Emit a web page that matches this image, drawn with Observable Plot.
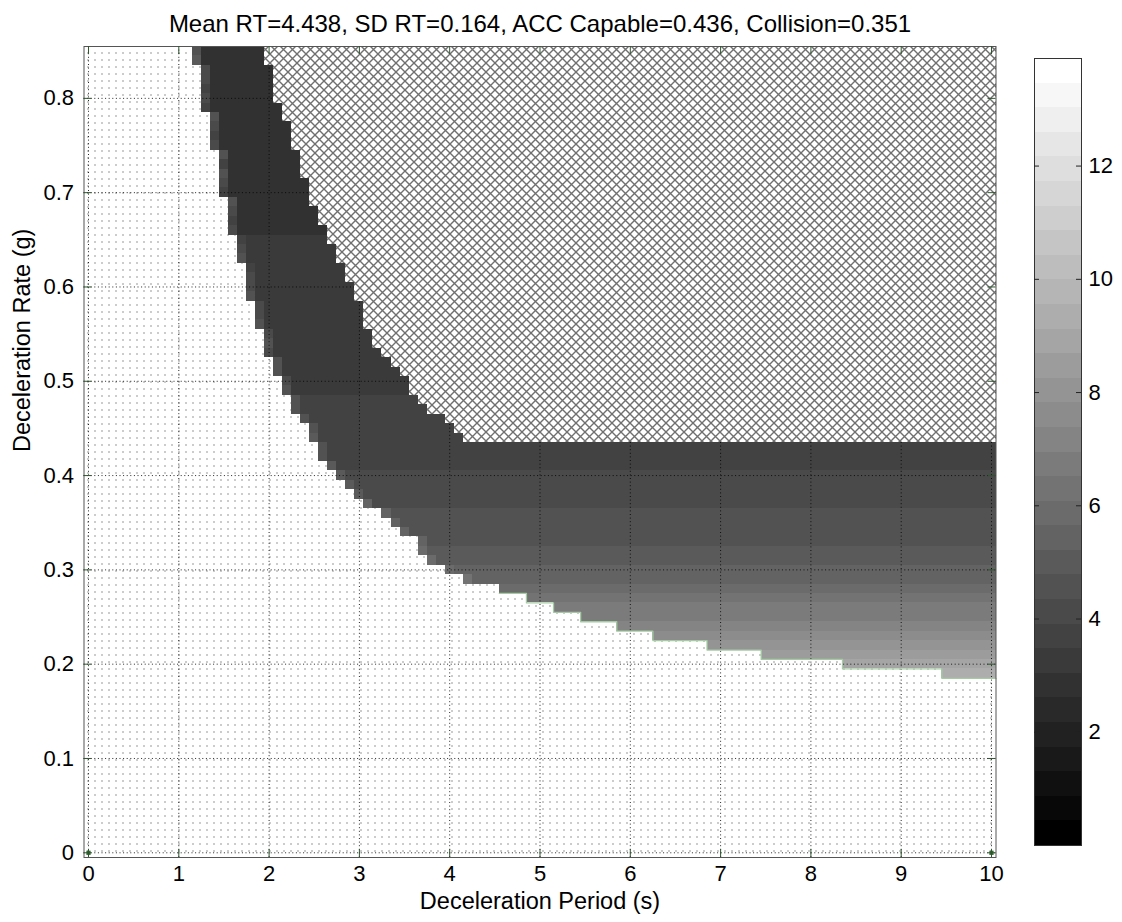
<!DOCTYPE html>
<html>
<head>
<meta charset="utf-8">
<script src="https://cdn.jsdelivr.net/npm/d3@7"></script>
<script src="https://cdn.jsdelivr.net/npm/@observablehq/plot@0.6"></script>
<style>
html, body { margin: 0; padding: 0; background: #fff; }
#wrap { position: relative; width: 1122px; height: 922px; }
#wrap svg { position: absolute; left: 0; top: 0; }
</style>
</head>
<body>
<div id="wrap"></div>
<script>
// ---------------- data ----------------
const titleText = "Mean RT=4.438, SD RT=0.164, ACC Capable=0.436, Collision=0.351";
const xLabel = "Deceleration Period (s)";
const yLabel = "Deceleration Rate (g)";
const xTicks = [0, 1, 2, 3, 4, 5, 6, 7, 8, 9, 10];
const yTicks = [0, 0.1, 0.2, 0.3, 0.4, 0.5, 0.6, 0.7, 0.8];
const cbTicks = [2, 4, 6, 8, 10, 12];
const colorDomain = [0, 13.9];

// one row per deceleration rate (g); grid 0.1 s x 0.01 g
const rates = [0.19, 0.20, 0.21, 0.22, 0.23, 0.24, 0.25, 0.26, 0.27, 0.28,
  0.29, 0.30, 0.31, 0.32, 0.33, 0.34, 0.35, 0.36, 0.37, 0.38,
  0.39, 0.40, 0.41, 0.42, 0.43, 0.44, 0.45, 0.46, 0.47, 0.48,
  0.49, 0.50, 0.51, 0.52, 0.53, 0.54, 0.55, 0.56, 0.57, 0.58,
  0.59, 0.60, 0.61, 0.62, 0.63, 0.64, 0.65, 0.66, 0.67, 0.68,
  0.69, 0.70, 0.71, 0.72, 0.73, 0.74, 0.75, 0.76, 0.77, 0.78,
  0.79, 0.80, 0.81, 0.82, 0.83, 0.84, 0.85];
// first non-collision period (s) in each row
const startX = [9.5, 8.4, 7.5, 6.9, 6.3, 5.9, 5.5, 5.2, 4.9, 4.6,
  4.2, 4.0, 3.8, 3.7, 3.7, 3.5, 3.4, 3.3, 3.1, 3.0,
  2.9, 2.8, 2.7, 2.6, 2.6, 2.5, 2.5, 2.4, 2.3, 2.3,
  2.2, 2.2, 2.1, 2.1, 2.0, 2.0, 2.0, 1.9, 1.9, 1.9,
  1.8, 1.8, 1.8, 1.8, 1.7, 1.7, 1.7, 1.6, 1.6, 1.6,
  1.6, 1.5, 1.5, 1.5, 1.5, 1.5, 1.4, 1.4, 1.4, 1.4,
  1.3, 1.3, 1.3, 1.3, 1.3, 1.2, 1.2];
// last period (s) before the ACC-capable (cross-hatched) region
const endX = [10, 10, 10, 10, 10, 10, 10, 10, 10, 10,
  10, 10, 10, 10, 10, 10, 10, 10, 10, 10,
  10, 10, 10, 10, 10, 4.1, 4.0, 3.9, 3.7, 3.6,
  3.5, 3.5, 3.4, 3.3, 3.2, 3.1, 3.1, 3.0, 3.0, 3.0,
  2.9, 2.9, 2.8, 2.8, 2.7, 2.7, 2.6, 2.6, 2.5, 2.5,
  2.4, 2.4, 2.4, 2.3, 2.3, 2.3, 2.2, 2.2, 2.2, 2.1,
  2.1, 2.0, 2.0, 2.0, 2.0, 1.9, 1.9];
// value of the shaded band in each row
const values = [9.4, 8.9, 8.5, 8.1, 7.6, 7.2, 6.9, 6.8, 6.4, 6.0,
  5.6, 5.5, 5.1, 5.0, 4.7, 4.7, 4.6, 4.5, 4.3, 4.2,
  4.2, 4.1, 3.8, 3.8, 3.7, 3.7, 3.7, 3.6, 3.6, 3.5,
  3.4, 3.4, 3.3, 3.3, 3.3, 3.3, 3.3, 3.3, 3.2, 3.2,
  3.2, 3.2, 3.2, 3.2, 3.2, 3.2, 3.2, 2.9, 2.9, 2.9,
  2.9, 2.9, 2.9, 2.9, 2.9, 2.9, 2.9, 2.9, 2.9, 2.9,
  2.9, 2.9, 2.9, 2.9, 2.9, 2.9, 2.9];
// slightly lighter first cell along the collision edge (null = none)
const edgeValues = [null, null, null, null, null, null, null, null, null, null,
  6.4, 6.0, 5.9, 5.8, 5.6, 5.5, 5.6, 5.4, 5.3, 5.2,
  5.0, 5.1, 4.9, 4.7, 4.6, 4.8, 4.6, 4.5, 4.7, 4.4,
  4.6, 4.3, 4.5, 4.4, 4.2, 4.5, 4.1, 4.6, 4.2, 4.0,
  4.4, 4.1, 4.3, 3.9, 4.4, 4.0, 3.8, 4.3, 3.9, 4.1,
  4.5, 3.8, 4.0, 4.4, 3.9, 4.6, 4.2, 3.8, 4.1, 4.4,
  3.9, 4.2, 3.8, 4.0, 4.3, 4.8, 4.6];
const cornerMarks = [{x: 0, y: 0}, {x: 10, y: 0}];

// ---------------- layout / style ----------------
const W = 1122, H = 922;
const L = 83.5, R = 995.5, T = 46, B = 857;
const cellW = 0.1, cellH = 0.01;
const font = "'Liberation Sans', Arial, Helvetica, sans-serif";
const tickColor = "#2f552f";
const grays = d3.range(32).map(k => { const g = Math.round(255 * k / 31); return `rgb(${g},${g},${g})`; });
const colorOpt = {type: "quantize", domain: colorDomain, range: grays};

const bandCells = [], hatchCells = [], greenEdge = [];
rates.forEach((r, i) => {
  const y1 = r - cellH / 2, y2 = r + cellH / 2;
  const s = startX[i], e = endX[i];
  if (edgeValues[i] != null) {
    bandCells.push({x1: s - cellW / 2, x2: s + cellW / 2, y1, y2, v: edgeValues[i]});
    bandCells.push({x1: s + cellW / 2, x2: e + cellW / 2, y1, y2, v: values[i]});
  } else {
    bandCells.push({x1: s - cellW / 2, x2: e + cellW / 2, y1, y2, v: values[i]});
  }
  if (e < 10) hatchCells.push({x1: e + cellW / 2, x2: 10 + cellW / 2, y1, y2});
});
// green contour along the lower collision edge (rows without lighter edge cells)
rates.forEach((r, i) => { if (edgeValues[i] == null) greenEdge.push({x: startX[i] - cellW / 2, y: r - cellH / 2}); });
greenEdge.reverse();
greenEdge.push({x: 10 + cellW / 2, y: rates[0] - cellH / 2});

const frameW = R - L, frameH = B - T, tl = 8;

const main = Plot.plot({
  width: W, height: H,
  marginLeft: L, marginRight: W - R, marginTop: T, marginBottom: H - B,
  style: {fontFamily: font, fontSize: "22px", color: "#000", background: "transparent"},
  x: {domain: [-cellW / 2, 10 + cellW / 2], ticks: xTicks, tickSize: 0, tickPadding: 8, tickFormat: d => String(d), label: null},
  y: {domain: [-cellH / 2, 0.85 + cellH / 2], ticks: yTicks, tickSize: 0, tickPadding: 10, tickFormat: d => String(d), label: null},
  color: colorOpt,
  marks: [
    Plot.frame({fill: "url(#dotPat)"}),
    Plot.rect(bandCells, {x1: "x1", x2: "x2", y1: "y1", y2: "y2", fill: "v", shapeRendering: "crispEdges"}),
    Plot.gridX(xTicks, {stroke: "#000", strokeOpacity: 0.85, strokeDasharray: "1,2.6"}),
    Plot.gridY(yTicks, {stroke: "#000", strokeOpacity: 0.85, strokeDasharray: "1,2.6"}),
    Plot.rect(hatchCells, {x1: "x1", x2: "x2", y1: "y1", y2: "y2", fill: "url(#hatchPat)", shapeRendering: "crispEdges"}),
    Plot.line(greenEdge, {x: "x", y: "y", curve: "step-after", stroke: "#a5cba5", strokeWidth: 1.3}),
    Plot.dot(cornerMarks, {x: "x", y: "y", symbol: "square", r: 2.4, fill: "#2f6a2f"}),
    Plot.frame({stroke: "#555"}),
    Plot.tickX(xTicks, {x: d => d, insetTop: frameH - tl, stroke: tickColor}),
    Plot.tickX(xTicks, {x: d => d, insetBottom: frameH - tl, stroke: tickColor}),
    Plot.tickY(yTicks, {y: d => d, insetRight: frameW - tl, stroke: tickColor}),
    Plot.tickY(yTicks, {y: d => d, insetLeft: frameW - tl, stroke: tickColor}),
    Plot.text([titleText], {frameAnchor: "top", dy: -32, fontSize: 24, fill: "#000"}),
    Plot.text([xLabel], {frameAnchor: "bottom", dy: 51, fontSize: 23.5, fill: "#000"}),
    Plot.text([yLabel], {frameAnchor: "left", dx: -62, rotate: -90, fontSize: 23.5, fill: "#000"})
  ]
});

// hatch / dot patterns
const defs = d3.select(main).insert("defs", ":first-child");
const dp = defs.append("pattern").attr("id", "dotPat").attr("patternUnits", "userSpaceOnUse")
  .attr("width", 7).attr("height", 7);
dp.append("rect").attr("width", 7).attr("height", 7).attr("fill", "#fff");
dp.append("rect").attr("x", 3).attr("y", 3).attr("width", 1).attr("height", 1).attr("fill", "#333");
const hp = defs.append("pattern").attr("id", "hatchPat").attr("patternUnits", "userSpaceOnUse")
  .attr("width", 9).attr("height", 9);
hp.append("rect").attr("width", 9).attr("height", 9).attr("fill", "#fff");
hp.append("path").attr("d", "M0,0L9,9M9,0L0,9").attr("stroke", "#707070").attr("stroke-width", 1.4).attr("fill", "none");

// colour bar
const c0 = colorDomain[0], step = (colorDomain[1] - colorDomain[0]) / grays.length;
const cbLevels = grays.map((g, k) => ({lo: c0 + k * step, hi: c0 + (k + 1) * step, mid: c0 + (k + 0.5) * step}));
const CBL = 1034, CBR = 1081, CBT = 58, CBB = 845;
const cb = Plot.plot({
  width: W, height: H,
  marginLeft: CBL, marginRight: W - CBR, marginTop: CBT, marginBottom: H - CBB,
  style: {fontFamily: font, fontSize: "22px", color: "#000", background: "transparent"},
  y: {domain: colorDomain, ticks: cbTicks, tickSize: 0, tickPadding: 7, axis: "right", label: null},
  color: colorOpt,
  marks: [
    Plot.rect(cbLevels, {y1: "lo", y2: "hi", fill: "mid", shapeRendering: "crispEdges"}),
    Plot.frame({stroke: "#333"}),
    Plot.tickY(cbTicks, {y: d => d, insetRight: (CBR - CBL) - 5, stroke: "#222"}),
    Plot.tickY(cbTicks, {y: d => d, insetLeft: (CBR - CBL) - 5, stroke: "#222"})
  ]
});
cb.style.pointerEvents = "none";

const wrap = document.getElementById("wrap");
wrap.appendChild(main);
wrap.appendChild(cb);
</script>
</body>
</html>
